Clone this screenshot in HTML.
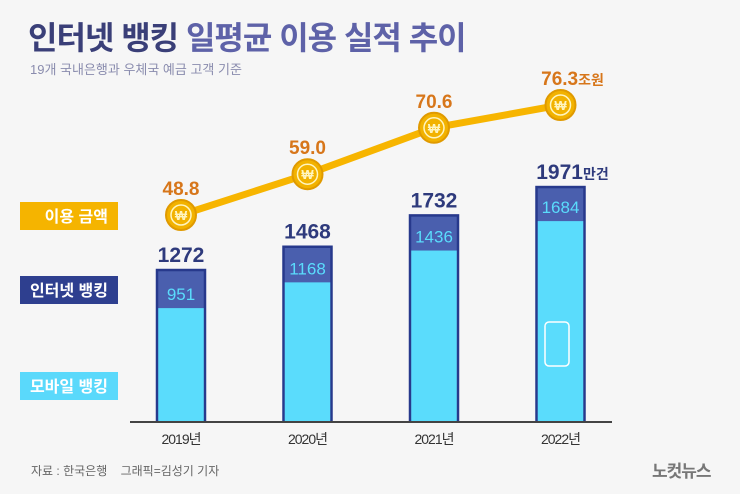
<!DOCTYPE html>
<html><head><meta charset="utf-8"><style>
html,body{margin:0;padding:0;}
body{width:740px;height:494px;background:#f6f6f6;font-family:"Liberation Sans","Noto Sans CJK KR",sans-serif;position:relative;overflow:hidden;}
.t{position:absolute;white-space:nowrap;}
</style></head><body>
<div class="t" style="left:28px;top:13px;font-size:32px;font-weight:bold;letter-spacing:-1px;color:#3a3f78;">인터넷 뱅킹 <span style="color:#5e62a8;font-weight:bold">일평균 이용 실적 추이</span></div>
<div class="t" style="left:30px;top:59px;font-size:13px;color:#8a8cae;">19개 국내은행과 우체국 예금 고객 기준</div>
<svg id="chart" width="740" height="494" style="position:absolute;left:0;top:0"></svg>
<div class="t" style="left:31px;top:462px;font-size:12px;color:#666;">자료 : 한국은행 &nbsp;&nbsp;&nbsp;그래픽=김성기 기자</div>
<div class="t" style="left:652px;top:457px;font-size:17px;font-weight:bold;color:#777;letter-spacing:-1px;">노컷뉴스</div>
<script>
const years=["2019년","2020년","2021년","2022년"];
const totalVals=[1272,1468,1732,1971];
const mobileVals=[951,1168,1436,1684];
const amountVals=[48.8,59.0,70.6,76.3];
const NS="http://www.w3.org/2000/svg";
const svg=document.getElementById('chart');
function mk(tag,attrs,parent){const e=document.createElementNS(NS,tag);for(const k in attrs)e.setAttribute(k,attrs[k]);(parent||svg).appendChild(e);return e;}
const base=421;
function yBar(v){return base-v*0.1187;}
function xCenter(i){return 181+i*126.5;}
function yLine(v){return 215-(v-48.8)*4.0;}
// legend labels: [text, color, centerY, name]
[["이용 금액","#f5b400",216,"legend-amount"],["인터넷 뱅킹","#2e3f8f",290,"legend-internet"],["모바일 뱅킹","#5ad9fb",386,"legend-mobile"]].forEach(l=>{
 const r=mk('rect',{x:20,y:l[2]-14,width:98,height:28,fill:l[1]});
 
 const t=mk('text',{x:108,y:l[2]+6,'text-anchor':'end','font-size':16,'font-weight':'bold',fill:'#fff'});
 t.textContent=l[0];
});
// bars
years.forEach((yr,i)=>{
 const x=xCenter(i)-24,w=48;
 const yt=yBar(totalVals[i]),ym=yBar(mobileVals[i]);
 const g=mk('rect',{x:x,y:yt,width:w,height:base-yt,fill:'#4a5fae',stroke:'#27398c','stroke-width':2.5});
 
 const m=mk('rect',{x:x+1.25,y:ym,width:w-2.5,height:base-ym,fill:'#5adcfc'});
 
 const tl=mk('text',{x:xCenter(i),y:yt-8,'text-anchor':'middle','font-size':21,'font-weight':'bold',fill:'#2e3a7c'});
 tl.textContent=totalVals[i];
 if(i===3){const s=mk('tspan',{'font-size':14});s.textContent='만건';tl.appendChild(s);tl.setAttribute('x',xCenter(i)+12);}
 const ml=mk('text',{x:xCenter(i),y:ym-8,'text-anchor':'middle','font-size':17,fill:'#5adcfc'});
 ml.textContent=mobileVals[i];
 const xl=mk('text',{x:xCenter(i),y:444,'text-anchor':'middle','font-size':14,fill:'#333','letter-spacing':'-1'});
 xl.textContent=yr;
});
const ax=mk('line',{x1:130,y1:422,x2:612,y2:422,stroke:'#444','stroke-width':2});

// phone icon
const ph=mk('rect',{x:545,y:322,width:24,height:44,rx:4,fill:'none',stroke:'#fff','stroke-width':1.5});

// line
const pts=amountVals.map((v,i)=>xCenter(i)+','+yLine(v)).join(' ');
const pl=mk('polyline',{points:pts,fill:'none',stroke:'#f7b500','stroke-width':7,'stroke-linecap':'round'});

amountVals.forEach((v,i)=>{
 const cx=xCenter(i),cy=yLine(v);
 const c=mk('circle',{cx:cx,cy:cy,r:15,fill:'#f2b200',stroke:'#e09a00','stroke-width':2});
 
 mk('circle',{cx:cx,cy:cy,r:10,fill:'none',stroke:'#fff5c0','stroke-width':1.5});
 const w=mk('text',{x:cx,y:cy+5,'text-anchor':'middle','font-size':13,'font-weight':'bold',fill:'#fff5c0'});w.textContent='₩';
 const t=mk('text',{x:cx,y:cy-20,'text-anchor':'middle','font-size':19,'font-weight':'bold',fill:'#d7761a'});
 t.textContent=v.toFixed(1);
 if(i===3){const s=mk('tspan',{'font-size':14});s.textContent='조원';t.appendChild(s);t.setAttribute('x',cx+12);}
});
</script>
</body></html>
